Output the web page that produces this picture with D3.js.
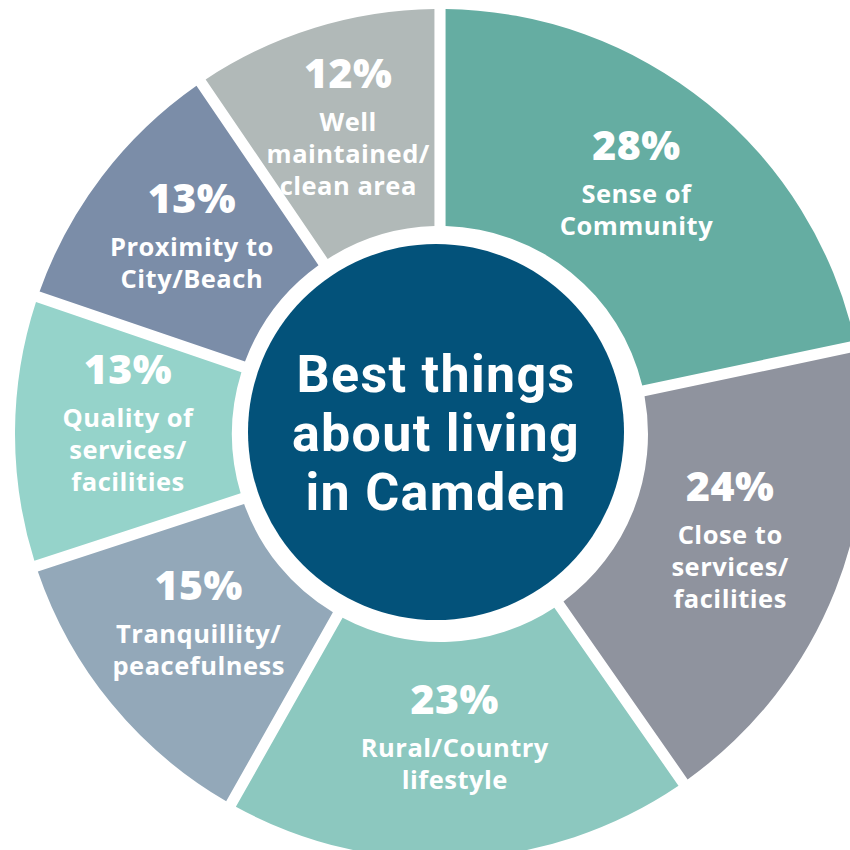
<!DOCTYPE html>
<html>
<head>
<meta charset="utf-8">
<script src="https://cdn.jsdelivr.net/npm/d3@7"></script>
<style>
  html, body { margin: 0; padding: 0; background: #ffffff; }
  svg { display: block; }
</style>
</head>
<body>
<svg id="chart" width="850" height="850"></svg>
<script>
// ---- data ----
const categories = [
  ["Sense of", "Community"],
  ["Close to", "services/", "facilities"],
  ["Rural/Country", "lifestyle"],
  ["Tranquillity/", "peacefulness"],
  ["Quality of", "services/", "facilities"],
  ["Proximity to", "City/Beach"],
  ["Well", "maintained/", "clean area"]
];
const values = [28, 24, 23, 15, 13, 13, 12];
const colors = ["#65ada2", "#8f939e", "#8cc8bf", "#93a8b9", "#95d3ca", "#7b8da8", "#b1b9b8"];
const titleLines = ["Best things", "about living", "in Camden"];

// ---- layout ----
const W = 850, H = 850;
const cx = 440, cy = 434;
const outerR = 425, innerR = 208, hubR = 188;
const labelR = 312;

const svg = d3.select("#chart");

const pie = d3.pie().sort(null).value(d => d).startAngle(0).endAngle(2 * Math.PI).padAngle(0.0235);
const arc = d3.arc().innerRadius(innerR).outerRadius(outerR);
const labelArc = d3.arc().innerRadius(labelR).outerRadius(labelR);

const arcs = pie(values).map((a, i) => Object.assign(a, { lines: categories[i], color: colors[i] }));

const g = svg.append("g").attr("transform", `translate(${cx},${cy})`);

g.selectAll("path.slice")
  .data(arcs)
  .join("path")
  .attr("class", "slice")
  .attr("d", arc)
  .attr("fill", d => d.color);

// labels
const labelFont = "'Open Sans', 'Noto Sans', sans-serif";
const lg = g.selectAll("g.lbl")
  .data(arcs)
  .join("g")
  .attr("class", "lbl")
  .attr("transform", d => {
    const [x, y] = labelArc.centroid(d);
    return `translate(${x},${y - 16 * d.lines.length})`;
  });

lg.append("text")
  .attr("text-anchor", "middle")
  .attr("fill", "#ffffff")
  .attr("font-family", labelFont)
  .attr("font-weight", 800)
  .attr("font-size", 41)
  .attr("letter-spacing", 0.5)
  .text(d => d.value + "%");

lg.each(function(d) {
  const sel = d3.select(this);
  d.lines.forEach((t, j) => {
    sel.append("text")
      .attr("text-anchor", "middle")
      .attr("fill", "#ffffff")
      .attr("font-family", labelFont)
      .attr("font-weight", 700)
      .attr("font-size", 25.5)
      .attr("letter-spacing", 0.5)
      .attr("y", 43 + 32 * j)
      .text(t);
  });
});

// hub
const hub = svg.append("g").attr("transform", `translate(436,432)`);
hub.append("circle").attr("r", hubR).attr("fill", "#03527a");
hub.selectAll("text.title")
  .data(titleLines)
  .join("text")
  .attr("class", "title")
  .attr("text-anchor", "middle")
  .attr("fill", "#ffffff")
  .attr("font-family", "Roboto, 'Open Sans', sans-serif")
  .attr("font-weight", 700)
  .attr("font-size", 52)
  .attr("letter-spacing", 1.3)
  .attr("y", (d, i) => -40 + 59 * i)
  .text(d => d);
</script>
</body>
</html>
